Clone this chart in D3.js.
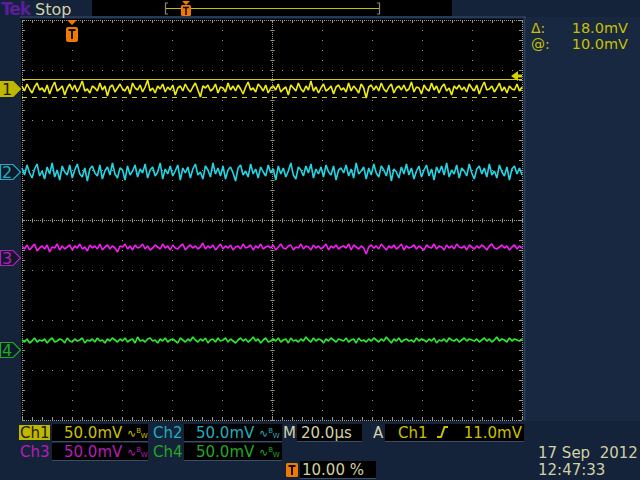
<!DOCTYPE html>
<html><head><meta charset="utf-8">
<script src="https://cdn.jsdelivr.net/npm/d3@7"></script>
<style>
html,body{margin:0;padding:0;background:#14233a;}
svg{display:block;}
text{font-family:"DejaVu Sans",sans-serif;white-space:pre;}
</style></head><body>
<svg id="c" width="640" height="480"></svg>
<script>
// ---- data (mV relative to each channel's ground marker) ----
const ch1Mv = [3,-2,5,0,-4,2,6,-1,1,-3,4,-5,2,7,-2,0,3,-6,1,5,
-1,4,-3,2,8,-2,0,-4,3,1,-2,6,-1,3,-7,2,4,-3,1,5,
0,-2,3,-5,6,1,-1,4,-3,2,9,-2,1,-4,3,0,5,-3,2,-1,
4,-6,1,3,-2,5,0,-3,2,6,-1,-8,3,1,4,-2,0,5,-4,2,
1,-3,6,-1,3,-2,4,0,-5,2,7,-1,1,-3,5,2,-2,4,-4,1,
3,-1,5,-3,0,2,-6,4,1,-2,6,0,-3,3,-1,8,-2,2,-4,1,
5,-2,0,3,-5,2,4,-1,1,-3,6,-2,3,0,-4,5,1,-9,2,4,
-1,3,-2,6,0,-3,2,5,-4,1,3,-1,4,-2,0,7,-3,2,1,-5,
4,0,-2,6,-1,3,-4,2,5,-2,1,-6,3,0,4,-1,2,-3,5,1,
-2,4,-5,2,7,-1,0,3,-3,1,6,-2,2,-4,3,0,-1,5,-2,2];
const ch2Mv = [4,-3,7,-1,-6,3,8,-4,1,-7,5,-2,9,-5,2,-8,6,0,-3,7,
-6,2,8,-2,-5,4,-9,3,6,-1,-4,7,-7,1,5,-3,9,-2,-6,4,
2,-8,6,-3,1,7,-5,3,-1,8,-6,2,5,-4,0,9,-7,3,-2,6,
-4,1,7,-8,4,-1,5,-6,3,8,-3,0,-7,6,2,-5,9,-2,4,-4,
6,-7,2,5,-1,-9,4,7,-3,1,-5,8,-2,3,-6,5,0,-4,7,-1,
3,-8,6,-2,4,-5,1,9,-3,-7,5,2,-4,6,-1,8,-6,3,-2,5,
-5,7,0,-3,6,-8,2,4,-1,7,-4,3,-6,9,-2,1,5,-7,4,-3,
8,-1,-5,6,2,-4,7,-9,3,0,-6,5,-2,8,-3,4,-7,1,6,-5,
2,7,-4,3,-8,5,-1,6,-3,9,-5,2,-2,7,-6,4,1,-4,8,-1,
-7,3,6,-2,4,-5,8,-3,1,-6,7,0,-4,5,-8,3,6,-2,4,-3];
const ch3Mv = [12,9,13,8,11,14,7,10,12,9,13,6,11,10,14,8,12,9,11,13,
8,12,10,14,9,11,7,13,10,12,9,14,8,11,13,9,12,10,6,12,
11,14,9,12,8,13,10,11,14,9,12,8,10,13,11,9,14,10,12,8,
13,10,9,12,14,8,11,13,10,12,9,11,15,9,12,10,13,8,11,14,
9,12,10,13,8,11,12,9,14,10,11,13,8,12,10,14,9,11,12,10,
13,8,11,14,10,9,12,13,8,11,10,14,9,12,11,8,13,10,12,9,
11,14,8,12,10,13,9,11,12,10,14,8,13,11,9,12,10,4,11,13,
10,12,9,14,11,8,12,10,13,9,11,14,8,12,10,11,13,9,12,10,
8,13,11,10,14,9,12,11,8,13,10,12,9,14,11,10,12,8,13,11,
9,12,10,13,11,8,12,14,10,9,11,13,10,12,8,11,13,9,12,10];
const ch4Mv = [10,8,11,7,9,12,8,10,9,11,7,10,12,8,9,11,10,7,12,9,
8,11,9,10,12,7,10,9,11,8,12,9,10,7,11,9,12,10,8,11,
9,12,8,10,11,7,13,9,10,8,11,12,9,10,7,11,9,12,8,10,
11,9,7,12,10,8,11,9,13,10,8,11,9,12,7,10,11,8,12,9,
10,12,8,11,9,7,10,12,9,11,8,10,13,9,11,7,10,12,8,9,
11,9,12,8,10,11,7,12,9,10,8,11,9,13,10,8,12,9,11,10,
7,11,9,12,10,8,11,10,9,12,8,10,11,7,12,9,10,8,11,9,
12,10,8,11,9,13,10,7,11,9,12,8,10,11,9,10,8,12,9,11,
10,8,11,9,12,7,10,9,11,8,12,10,9,11,8,10,12,9,11,10,
9,11,8,10,12,9,11,8,10,13,9,11,10,8,12,9,11,10,9,11];

const channelNames = ["Ch1","Ch2","Ch3","Ch4"];
const channelPosDiv = [2.62, 0.96, -0.76, -2.6];   // ground marker position, divisions
const voltsPerDivMv = [50, 50, 50, 50];
const scaleLabels = ["50.0mV","50.0mV","50.0mV","50.0mV"];
const timeRangeUs = [-20, 180];                    // 10 div x 20 µs, trigger at 10 %
const timeDivUs = 20;
const cursorMv = [10, -8];                         // on Ch1
const triggerLevelMv = 11;
const triggerPosUs = 0;
const readouts = {delta:"18.0mV", at:"10.0mV", timebase:"20.0µs", trig:"11.0mV", trigPos:"10.00 %", date:"17 Sep  2012", time:"12:47:33"};

// ---- styles ----
const traceColors = ["#f0ec10","#22d4e4","#f21ef2","#2ee82e"];
const labelColors = ["#c8c000","#20aebe","#b81cb8","#22a822"];
const beige = "#d2d0a6";
const gridCol = "#9a9a86";
const orange = "#f07a00";

const svg = d3.select("#c");
const X0=22, X1=522, Y0=20, Y1=420;
const x = d3.scaleLinear().domain(timeRangeUs).range([X0, X1]);
const y = d3.scaleLinear().domain([-4, 4]).range([Y1, Y0]);

// background panels
svg.append("rect").attr("width",640).attr("height",480).attr("fill","#14233a");
svg.append("rect").attr("x",524).attr("y",17).attr("width",116).attr("height",404).attr("fill","#182840");
svg.append("line").attr("x1",20).attr("x2",526).attr("y1",17).attr("y2",17).attr("stroke","#2e4260").attr("stroke-width",1.5);
svg.append("line").attr("x1",524.5).attr("x2",524.5).attr("y1",17).attr("y2",421).attr("stroke","#2e4260").attr("stroke-width",1.5);
svg.append("rect").attr("x",X0-1).attr("y",Y0-1).attr("width",X1-X0+2).attr("height",Y1-Y0+2).attr("fill","#000");

// grid
const g = svg.append("g");
const xTicks = d3.range(timeRangeUs[0], timeRangeUs[1]+0.001, timeDivUs);
const yTicks = d3.range(-4, 4.001, 1);
xTicks.forEach((t,i)=>{
  const px = Math.round(x(t))+0.5;
  const edge = (i===0||i===xTicks.length-1), center = Math.abs(t-(timeRangeUs[0]+timeRangeUs[1])/2)<1e-6;
  g.append("line").attr("x1",px).attr("x2",px).attr("y1",Y0).attr("y2",Y1)
    .attr("stroke",gridCol).attr("stroke-width",1)
    .attr("stroke-dasharray", (edge||center) ? "1,1" : "1,9");
});
yTicks.forEach((d,i)=>{
  const py = Math.round(y(d))+0.5;
  const edge = (i===0||i===yTicks.length-1), center = d===0;
  g.append("line").attr("x1",X0).attr("x2",X1).attr("y1",py).attr("y2",py)
    .attr("stroke",gridCol).attr("stroke-width",1)
    .attr("stroke-dasharray", (edge||center) ? "1,1" : "1,9");
});
const cx = Math.round(x((timeRangeUs[0]+timeRangeUs[1])/2))+0.5, cy = Math.round(y(0))+0.5;
const minorX = d3.range(timeRangeUs[0], timeRangeUs[1]+0.001, timeDivUs/5);
const minorY = d3.range(-4, 4.001, 0.2);
minorX.forEach(t=>{
  const px = Math.round(x(t))+0.5;
  g.append("line").attr("x1",px).attr("x2",px).attr("y1",cy-2).attr("y2",cy+2).attr("stroke",gridCol);
  g.append("line").attr("x1",px).attr("x2",px).attr("y1",Y0).attr("y2",Y0+3).attr("stroke",gridCol);
  g.append("line").attr("x1",px).attr("x2",px).attr("y1",Y1-3).attr("y2",Y1).attr("stroke",gridCol);
});
minorY.forEach(d=>{
  const py = Math.round(y(d))+0.5;
  g.append("line").attr("x1",cx-2).attr("x2",cx+2).attr("y1",py).attr("y2",py).attr("stroke",gridCol);
  g.append("line").attr("x1",X0).attr("x2",X0+3).attr("y1",py).attr("y2",py).attr("stroke",gridCol);
  g.append("line").attr("x1",X1-3).attr("x2",X1).attr("y1",py).attr("y2",py).attr("stroke",gridCol);
});

// traces
const series = [ch1Mv, ch2Mv, ch3Mv, ch4Mv];
series.forEach((vals, c)=>{
  const n = vals.length;
  const tAt = d3.scaleLinear().domain([0, n-1]).range(timeRangeUs);
  const line = d3.line()
    .x((v,i)=>x(tAt(i)))
    .y(v=>y(channelPosDiv[c] + v/voltsPerDivMv[c]));
  svg.append("path").datum(vals).attr("d",line)
    .attr("fill","none").attr("stroke",traceColors[c]).attr("stroke-width",1.6)
    .attr("stroke-linejoin","bevel");
});

// cursors on Ch1
cursorMv.forEach((mv,i)=>{
  const py = Math.round(y(channelPosDiv[0] + mv/voltsPerDivMv[0]))+0.5;
  svg.append("line").attr("x1",X0).attr("x2",X1).attr("y1",py).attr("y2",py)
    .attr("stroke","#d8d000").attr("stroke-width",1)
    .attr("stroke-dasharray", i===0 ? null : "5,5");
});

// trigger level arrow (right)
{
  const py = y(channelPosDiv[0] + triggerLevelMv/voltsPerDivMv[0]) - 2;
  svg.append("path").attr("d",`M${X1-11},${py} L${X1-4},${py-5} L${X1-4},${py-1.5} L${X1},${py-1.5} L${X1},${py+1.5} L${X1-4},${py+1.5} L${X1-4},${py+5} Z`)
    .attr("fill","#d8d000");
}

// trigger position marker (top of graticule)
function tMarker(px, top, h){
  const gg = svg.append("g");
  gg.append("path").attr("d",`M${px-5},${top} L${px+5},${top} L${px},${top+5} Z`).attr("fill",orange);
  gg.append("rect").attr("x",px-6).attr("y",top+7).attr("width",12).attr("height",h).attr("rx",2).attr("fill",orange);
  gg.append("path").attr("d",`M${px-3.5},${top+10} H${px+3.5} M${px},${top+10} V${top+h+4}`)
    .attr("stroke","#111").attr("stroke-width",2);
}
tMarker(x(triggerPosUs), Y0, 15);

// channel ground markers (left)
channelNames.forEach((nm,c)=>{
  const py = y(channelPosDiv[c]);
  const sel = c===0;
  svg.append("path").attr("d",`M0.5,${py-7.5} H13 L20.5,${py} L13,${py+7.5} H0.5 Z`)
    .attr("fill", sel ? "#c0b800" : "#0e1a2c").attr("stroke", sel ? "#c0b800" : labelColors[c]).attr("stroke-width",1.2);
  svg.append("text").attr("x",7).attr("y",py+6).attr("text-anchor","middle")
    .attr("font-size",16).attr("fill", sel ? "#202000" : labelColors[c]).text(String(c+1));
});

// top bar
svg.append("text").attr("x",1).attr("y",15).attr("font-size",17).attr("font-weight","bold")
  .attr("letter-spacing",-1).attr("fill","#5a1e9c").text("Tek");
svg.append("text").attr("x",35).attr("y",15).attr("font-size",16).attr("fill",beige).text("Stop");
svg.append("rect").attr("x",92).attr("y",0).attr("width",360).attr("height",16).attr("fill","#000");
svg.append("line").attr("x1",166).attr("x2",379).attr("y1",8.5).attr("y2",8.5).attr("stroke","#c8c000").attr("stroke-width",1.2);
svg.append("path").attr("d","M168,3 H165.5 V14 H168 M377,3 H379.5 V14 H377").attr("fill","none").attr("stroke","#8a8a70").attr("stroke-width",1.2);
{
  const px = 186;
  svg.append("path").attr("d",`M${px-4},1 L${px+4},1 L${px},5 Z`).attr("fill",orange);
  svg.append("rect").attr("x",px-5).attr("y",5).attr("width",10).attr("height",11).attr("rx",1.5).attr("fill",orange);
  svg.append("path").attr("d",`M${px-3},7.5 H${px+3} M${px},7.5 V15`).attr("stroke","#111").attr("stroke-width",1.6);
}

// cursor readouts
const fs = 15, fsr = 14;
svg.append("text").attr("x",531).attr("y",32.5).attr("font-size",fsr).attr("fill","#c8c000").text("Δ:");
svg.append("text").attr("x",628).attr("y",32.5).attr("text-anchor","end").attr("font-size",fsr+0.5).attr("fill","#c8c000").text(readouts.delta);
svg.append("text").attr("x",531).attr("y",49).attr("font-size",fsr).attr("fill","#c8c000").text("@:");
svg.append("text").attr("x",628).attr("y",49).attr("text-anchor","end").attr("font-size",fsr+0.5).attr("fill","#c8c000").text(readouts.at);

// bottom readouts
function box(x0,y0,w,h){
  svg.append("rect").attr("x",x0).attr("y",y0).attr("width",w).attr("height",h).attr("fill","#000");
  svg.append("line").attr("x1",x0).attr("x2",x0+w).attr("y1",y0+h+0.5).attr("y2",y0+h+0.5).attr("stroke","#3a4c66");
}
function bwSym(x0, base, col){
  const t = svg.append("text").attr("x",x0).attr("y",base-1).attr("fill",col).attr("font-size",11);
  t.append("tspan").text("∿");
  t.append("tspan").attr("font-size",7).attr("dy",-4).text("B");
  t.append("tspan").attr("font-size",7).attr("dy",5).text("W");
}
const rowBase = [438, 457];
const colX = [[19,52,64],[152,184,196]];
channelNames.forEach((nm,c)=>{
  const r = Math.floor(c/2), k = c%2;
  const base = rowBase[r];
  const [lx, bx, tx] = colX[k];
  if (c===0){
    svg.append("rect").attr("x",lx).attr("y",base-13).attr("width",31).attr("height",15).attr("fill","#c0b800");
    svg.append("text").attr("x",lx+1).attr("y",base).attr("font-size",fs).attr("fill","#1c1c00").text(nm);
  } else {
    svg.append("text").attr("x",lx+1).attr("y",base).attr("font-size",fs).attr("fill",labelColors[c]).text(nm);
  }
  box(bx, base-14, k===0?96:98, 17);
  svg.append("text").attr("x",tx).attr("y",base).attr("font-size",fs).attr("fill",labelColors[c]).text(scaleLabels[c]);
  bwSym(tx+63, base, labelColors[c]);
});
// timebase & trigger
svg.append("text").attr("x",283).attr("y",438).attr("font-size",fs).attr("fill",beige).text("M");
box(297,424,65,17);
svg.append("text").attr("x",301).attr("y",438).attr("font-size",fs).attr("fill",beige).text(readouts.timebase);
svg.append("text").attr("x",373).attr("y",438).attr("font-size",fs).attr("fill",beige).text("A");
box(385,424,139,17);
svg.append("text").attr("x",398).attr("y",438).attr("font-size",fs).attr("fill","#c8c000").text(channelNames[0]);
svg.append("path").attr("d","M437,437 H441 L444.5,427 H448").attr("fill","none").attr("stroke","#c8c000").attr("stroke-width",2);
svg.append("text").attr("x",522).attr("y",438).attr("text-anchor","end").attr("font-size",fs).attr("fill","#c8c000").text(readouts.trig);
// trigger position readout
svg.append("rect").attr("x",286).attr("y",463).attr("width",12).attr("height",14).attr("rx",1.5).attr("fill",orange);
svg.append("path").attr("d","M288.5,466 H295.5 M292,466 V475").attr("stroke","#111").attr("stroke-width",2);
box(300,461,76,17);
svg.append("text").attr("x",302).attr("y",475).attr("font-size",fs).attr("fill",beige).text(readouts.trigPos);
// date/time
svg.append("text").attr("x",538).attr("y",458).attr("font-size",fs).attr("fill",beige).text(readouts.date);
svg.append("text").attr("x",538).attr("y",475).attr("font-size",fs).attr("fill",beige).text(readouts.time);
</script>
</body></html>
